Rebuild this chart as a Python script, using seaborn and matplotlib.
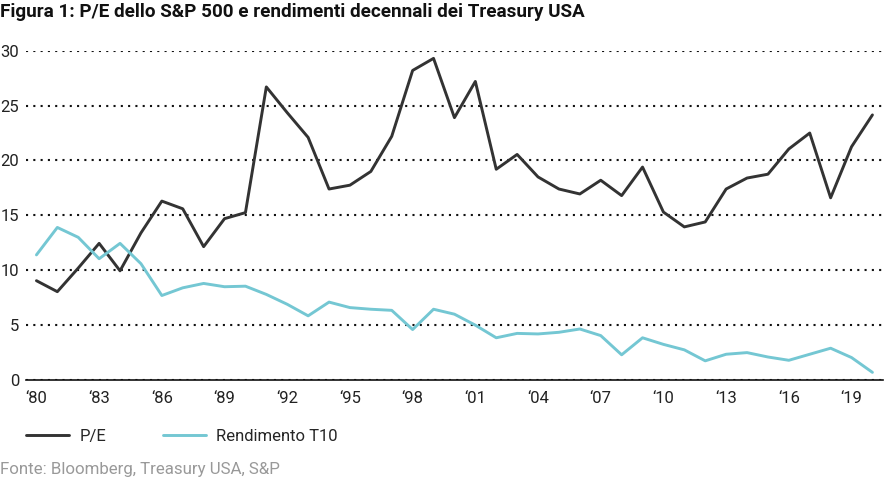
import numpy as np
import pandas as pd
import matplotlib
matplotlib.use("Agg")
import matplotlib.pyplot as plt
import seaborn as sns

# dati (annuali, 1980-2020)
anni = list(range(1980, 2021))
pe = [9.05, 8.05, 10.2, 12.45, 9.95, 13.4, 16.3, 15.6, 12.15, 14.7,
      15.25, 26.7, 24.35, 22.1, 17.4, 17.75, 19.0, 22.2, 28.2, 29.3,
      23.9, 27.2, 19.2, 20.55, 18.5, 17.4, 16.95, 18.2, 16.8, 19.4,
      15.3, 13.95, 14.4, 17.4, 18.4, 18.75, 21.05, 22.5, 16.6, 21.25, 24.15]
t10 = [11.4, 13.9, 13.0, 11.05, 12.45, 10.6, 7.7, 8.4, 8.8, 8.5,
       8.55, 7.8, 6.9, 5.85, 7.1, 6.6, 6.45, 6.35, 4.6, 6.45,
       6.0, 5.0, 3.85, 4.25, 4.2, 4.35, 4.65, 4.05, 2.3, 3.85,
       3.25, 2.75, 1.75, 2.35, 2.5, 2.1, 1.8, 2.35, 2.9, 2.05, 0.7]
tick_anni = list(range(1980, 2020, 3))
tick_lab = ["\u2018%02d" % (a % 100) for a in tick_anni]

sns.set_style("white")
plt.rcParams['font.family'] = ['Roboto', 'DejaVu Sans']

fig = plt.figure(figsize=(8.9, 4.86), dpi=100)
ax = fig.add_axes([0.0292, 0.218, 0.9628, 0.6777])

sns.lineplot(x=anni, y=pe, ax=ax, color="#333333", linewidth=2.1, label="P/E")
sns.lineplot(x=anni, y=t10, ax=ax, color="#74c7d3", linewidth=2.1, label="Rendimento T10")

ax.set_xlim(1979.5, 2020.5)
ax.set_ylim(0, 30)
ax.set_yticks([0, 5, 10, 15, 20, 25, 30])
ax.set_xticks(tick_anni)
ax.set_xticklabels(tick_lab)
ax.tick_params(axis="both", length=0, labelsize=12, colors="#222222")
ax.tick_params(axis="y", pad=5)
ax.tick_params(axis="x", pad=8)
for lab in ax.get_yticklabels():
    lab.set_horizontalalignment("right")

ax.grid(axis="y", linestyle=(0, (1, 2.5)), color="#111111", linewidth=1.5)
ax.grid(axis="x", visible=False)
for s in ["top", "right", "left"]:
    ax.spines[s].set_visible(False)
ax.spines["bottom"].set_color("#111111")
ax.spines["bottom"].set_linewidth(1.2)
ax.spines["bottom"].set_zorder(3)
ax.set_xlabel("")
ax.set_ylabel("")

ax.legend(loc="center left", bbox_to_anchor=(0.0, -0.17), ncol=2, frameon=False,
          fontsize=12, handlelength=2.6, handletextpad=0.6, columnspacing=3.4,
          borderaxespad=0, borderpad=0)

fig.text(0.0, 0.975, "Figura 1: P/E dello S&P 500 e rendimenti decennali dei Treasury USA",
         fontsize=13.6, fontweight="bold", ha="left", va="center", color="#111111")
fig.text(0.0, 0.033, "Fonte: Bloomberg, Treasury USA, S&P", fontsize=12.2,
         ha="left", va="center", color="#999999")

fig.savefig("out.png", dpi=100)
